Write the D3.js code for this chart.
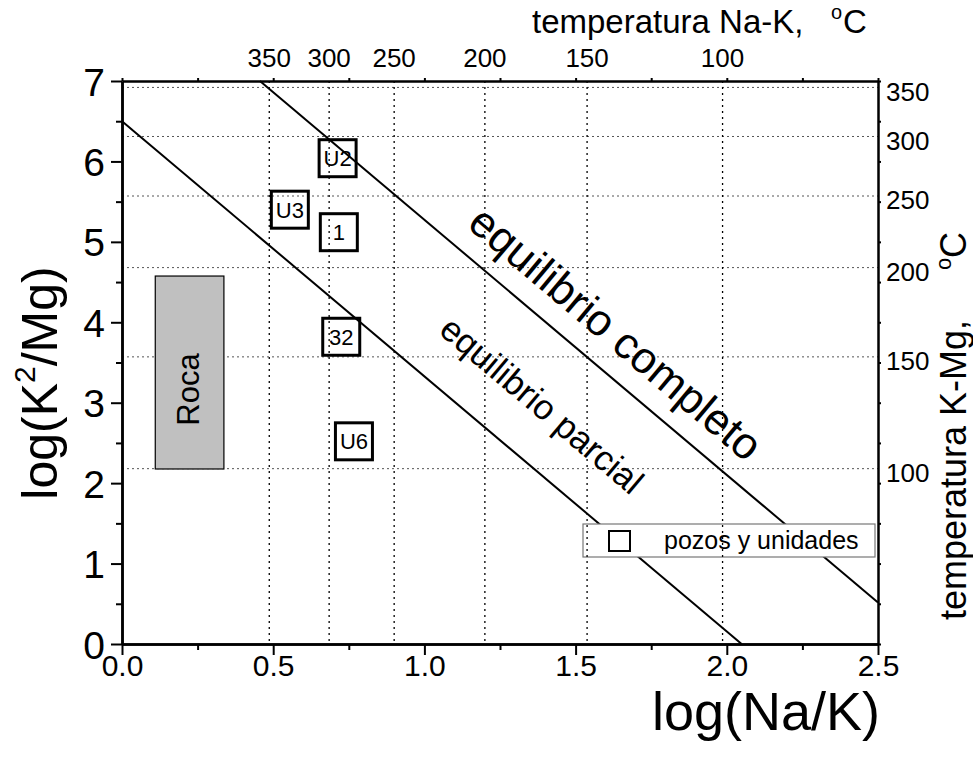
<!DOCTYPE html>
<html>
<head>
<meta charset="utf-8">
<script src="https://cdn.jsdelivr.net/npm/d3@7"></script>
<style>
  html, body { margin: 0; padding: 0; background: #fff; }
  svg { display: block; font-family: "Liberation Sans", Arial, sans-serif; }
</style>
</head>
<body>
<svg id="chart" width="973" height="761"></svg>
<script>
// Axis domains
const xDomain = [0, 2.5];
const yDomain = [0, 7];
const xTicks = [0, 0.5, 1.0, 1.5, 2.0, 2.5];
const yTicks = [0, 1, 2, 3, 4, 5, 6, 7];

// Na-K geothermometer temperatures (top axis) and their log(Na/K) positions
const naKTempLabels = ["350", "300", "250", "200", "150", "100"];
const naKTempPos = [0.487, 0.685, 0.900, 1.200, 1.538, 1.986];

// K-Mg geothermometer temperatures (right axis) and their log(K2/Mg) positions
const kMgTempLabels = ["350", "300", "250", "200", "150", "100"];
const kMgTempPos = [6.92, 6.31, 5.57, 4.68, 3.57, 2.18];

// Equilibrium lines (endpoints in data units)
const fullEquilibrium = [[0.456, 7.0], [2.5, 0.516]];
const partialEquilibrium = [[0.0, 6.5], [2.049, 0.0]];

// Wells and units
const wellNames = ["U2", "U3", "1", "32", "U6"];
const wellNaK = [0.713, 0.555, 0.717, 0.725, 0.767];
const wellKMg = [6.04, 5.40, 5.12, 3.82, 2.52];

// Rock field
const rockNaK = [0.110, 0.337];
const rockKMg = [2.176, 4.575];

const svg = d3.select("#chart");
const plotLeft = 122, plotRight = 878, plotTop = 81, plotBottom = 644;

const x = d3.scaleLinear().domain(xDomain).range([plotLeft, plotRight]);
const y = d3.scaleLinear().domain(yDomain).range([plotBottom, plotTop]);

// Horizontal dotted grid at K-Mg temperatures
svg.append("g").selectAll("line").data(kMgTempPos).join("line")
  .attr("x1", plotLeft).attr("x2", plotRight)
  .attr("y1", d => y(d)).attr("y2", d => y(d))
  .attr("stroke", "#555").attr("stroke-width", 1)
  .attr("stroke-dasharray", "2,3");

// Rock field
svg.append("rect")
  .attr("x", x(rockNaK[0])).attr("y", y(rockKMg[1]))
  .attr("width", x(rockNaK[1]) - x(rockNaK[0]))
  .attr("height", y(rockKMg[0]) - y(rockKMg[1]))
  .attr("fill", "#c0c0c0").attr("stroke", "#000").attr("stroke-width", 1.2);
svg.append("text")
  .attr("transform", `translate(${(x(rockNaK[0]) + x(rockNaK[1])) / 2 + 9},${(y(rockKMg[0]) + y(rockKMg[1])) / 2 + 17}) rotate(-90)`)
  .attr("text-anchor", "middle")
  .attr("font-size", 31).text("Roca");

// Equilibrium lines
const line = d3.line().x(d => x(d[0])).y(d => y(d[1]));
[fullEquilibrium, partialEquilibrium].forEach(seg => {
  svg.append("path").attr("d", line(seg))
    .attr("fill", "none").attr("stroke", "#000").attr("stroke-width", 2);
});

// Legend background
const legend = svg.append("g");
legend.append("rect")
  .attr("x", 583).attr("y", 524).attr("width", 292).attr("height", 33)
  .attr("fill", "#fff").attr("stroke", "#777").attr("stroke-width", 1.2);

// Vertical dotted grid at Na-K temperatures
svg.append("g").selectAll("line").data(naKTempPos).join("line")
  .attr("x1", d => x(d)).attr("x2", d => x(d))
  .attr("y1", plotTop).attr("y2", plotBottom)
  .attr("stroke", "#000").attr("stroke-width", 1.3)
  .attr("stroke-dasharray", "2,4");

// Legend content
legend.append("rect")
  .attr("x", 609).attr("y", 531).attr("width", 21).attr("height", 20)
  .attr("fill", "none").attr("stroke", "#000").attr("stroke-width", 2);
legend.append("text")
  .attr("x", 664).attr("y", 549).attr("font-size", 25).text("pozos y unidades");

// Well markers
const size = 37;
const wells = svg.append("g").selectAll("g").data(wellNames).join("g")
  .attr("transform", (d, i) => `translate(${x(wellNaK[i])},${y(wellKMg[i])})`);
wells.append("rect")
  .attr("x", -size / 2).attr("y", -size / 2).attr("width", size).attr("height", size)
  .attr("fill", "none").attr("stroke", "#000").attr("stroke-width", 3);
wells.append("text")
  .attr("text-anchor", "middle").attr("dy", "0.36em")
  .attr("font-size", 22).text(d => d);

// Line labels
const angle = Math.atan2(y(fullEquilibrium[1][1]) - y(fullEquilibrium[0][1]),
                         x(fullEquilibrium[1][0]) - x(fullEquilibrium[0][0])) * 180 / Math.PI;
svg.append("text")
  .attr("transform", `translate(616,333) rotate(${angle})`)
  .attr("text-anchor", "middle").attr("dy", "0.35em")
  .attr("font-size", 44).text("equilibrio completo");
svg.append("text")
  .attr("transform", `translate(542,405) rotate(${angle})`)
  .attr("text-anchor", "middle").attr("dy", "0.35em")
  .attr("font-size", 35).text("equilibrio parcial");

// Axes
const axisStyle = g => {
  g.select(".domain").attr("stroke-width", 2.5);
  g.selectAll(".tick line").attr("stroke-width", 2);
};

// bottom: major + minor ticks
svg.append("g").attr("transform", `translate(0,${plotBottom})`)
  .call(d3.axisBottom(x).tickValues(d3.range(0.25, 2.5, 0.5)).tickSize(6).tickFormat("").tickSizeOuter(0))
  .call(axisStyle);
svg.append("g").attr("transform", `translate(0,${plotBottom})`)
  .call(d3.axisBottom(x).tickValues(xTicks).tickSize(11).tickFormat(d3.format(".1f")).tickSizeOuter(0))
  .call(axisStyle)
  .call(g => g.selectAll(".tick text").attr("font-size", 30).attr("y", 0).attr("dy", 32)
    .attr("font-family", "Liberation Sans, Arial, sans-serif"));

// left
svg.append("g").attr("transform", `translate(${plotLeft},0)`)
  .call(d3.axisLeft(y).tickValues(d3.range(0.5, 7, 1)).tickSize(6).tickFormat("").tickSizeOuter(0))
  .call(axisStyle);
svg.append("g").attr("transform", `translate(${plotLeft},0)`)
  .call(d3.axisLeft(y).tickValues(yTicks).tickSize(11).tickFormat(d3.format("d")).tickSizeOuter(0))
  .call(axisStyle)
  .call(g => g.selectAll(".tick text").attr("font-size", 39).attr("x", -17).attr("dy", "0.36em")
    .attr("font-family", "Liberation Sans, Arial, sans-serif"));

// top: mirrored small ticks, labels at Na-K temperatures
svg.append("g").attr("transform", `translate(0,${plotTop})`)
  .call(d3.axisTop(x).tickValues(d3.range(0, 2.51, 0.25)).tickSize(3).tickFormat("").tickSizeOuter(0))
  .call(axisStyle);
svg.append("g").selectAll("text").data(naKTempLabels).join("text")
  .attr("x", (d, i) => x(naKTempPos[i])).attr("y", 67)
  .attr("text-anchor", "middle").attr("font-size", 26).text(d => d);

// right: mirrored small ticks, labels at K-Mg temperatures
svg.append("g").attr("transform", `translate(${plotRight},0)`)
  .call(d3.axisRight(y).tickValues(d3.range(0, 7.01, 0.5)).tickSize(3).tickFormat("").tickSizeOuter(0))
  .call(axisStyle);
svg.append("g").selectAll("text").data(kMgTempLabels).join("text")
  .attr("x", 886).attr("y", (d, i) => y(kMgTempPos[i]) + 4)
  .attr("dy", "0.36em").attr("font-size", 26).text(d => d);

// Axis titles
svg.append("text")
  .attr("x", 880).attr("y", 730).attr("text-anchor", "end")
  .attr("font-size", 54).text("log(Na/K)");

const yTitle = svg.append("text")
  .attr("transform", "translate(57,383) rotate(-90)")
  .attr("text-anchor", "middle").attr("font-size", 50);
yTitle.append("tspan").text("log(K");
yTitle.append("tspan").attr("font-size", 30).attr("dy", "-0.75em").text("2");
yTitle.append("tspan").attr("dy", "0.45em").text("/Mg)");

const topTitle = svg.append("text")
  .attr("x", 532).attr("y", 33).attr("font-size", 33);
topTitle.append("tspan").text("temperatura Na-K,");
topTitle.append("tspan").attr("x", 831).attr("font-size", 20).attr("dy", "-0.7em").text("o");
topTitle.append("tspan").attr("x", 843).attr("dy", "0.42em").text("C");

const rightTitle = svg.append("text")
  .attr("transform", "translate(966,620) rotate(-90)")
  .attr("font-size", 36);
rightTitle.append("tspan").text("temperatura K-Mg,");
rightTitle.append("tspan").attr("x", 350).attr("font-size", 22).attr("dy", "-0.7em").text("o");
rightTitle.append("tspan").attr("x", 362).attr("dy", "0.43em").text("C");
</script>
</body>
</html>
